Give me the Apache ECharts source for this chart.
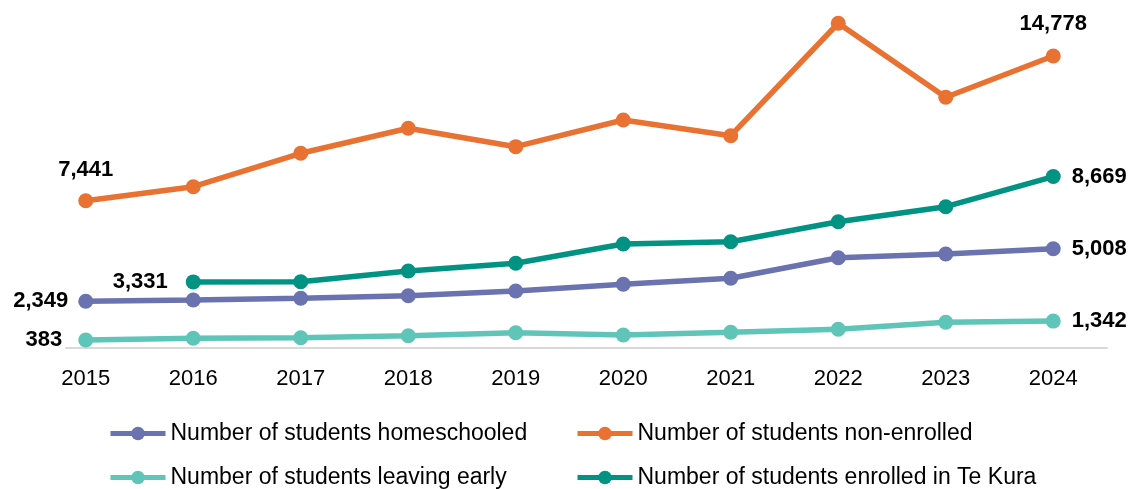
<!DOCTYPE html>
<html>
<head>
<meta charset="utf-8">
<script src="https://cdn.jsdelivr.net/npm/echarts@6/dist/echarts.min.js"></script>
<style>
  html, body { margin: 0; padding: 0; background: #fff; }
  #chart { width: 1134px; height: 489px; }
</style>
</head>
<body>
<div id="chart"></div>
<script>
const years = ["2015", "2016", "2017", "2018", "2019", "2020", "2021", "2022", "2023", "2024"];
const homeschooled = [2349, 2413, 2499, 2631, 2869, 3209, 3513, 4557, 4745, 5008];
const nonEnrolled = [7441, 8156, 9849, 11116, 10184, 11537, 10741, 16439, 12688, 14778];
const leavingEarly = [383, 471, 502, 603, 755, 639, 776, 928, 1282, 1342];
const teKura = [null, 3331, 3340, 3883, 4273, 5251, 5368, 6382, 7142, 8669];

const font = "'Liberation Sans', Arial, sans-serif";

// label only the first and last value of each line
const endLabels = (values, firstPos, firstDist, lastPos, lastDist) => {
  let first = values.findIndex((v) => v != null);
  let last = values.length - 1;
  return values.map((v, i) => {
    if (i === first) {
      return { value: v, label: { show: true, position: firstPos, distance: firstDist } };
    }
    if (i === last) {
      return { value: v, label: { show: true, position: lastPos, distance: lastDist } };
    }
    return v;
  });
};

const makeSeries = (name, color, data) => ({
  name: name,
  type: "line",
  data: data,
  symbol: "circle",
  symbolSize: 15,
  showAllSymbol: true,
  connectNulls: false,
  lineStyle: { width: 5.5, color: color },
  itemStyle: { color: color },
  label: {
    show: false,
    color: "#000",
    fontWeight: "bold",
    fontSize: 22,
    fontFamily: font,
    formatter: (p) => p.value.toLocaleString("en-US"),
  },
  emphasis: { disabled: true },
});

const series = [
  makeSeries("Number of students homeschooled", "#6A72B0", endLabels(homeschooled, "left", 10, "right", 11)),
  makeSeries("Number of students non-enrolled", "#E97132", endLabels(nonEnrolled, "top", 12, "top", 14)),
  makeSeries("Number of students leaving early", "#5FC5B9", endLabels(leavingEarly, "left", 13, "right", 11)),
  makeSeries("Number of students enrolled in Te Kura", "#009282", endLabels(teKura, "left", 18, "right", 11)),
];
// white box behind "383" hides the start of the axis line
series[2].data[0].label.backgroundColor = "#fff";
series[2].data[0].label.padding = [0, 3, 0, 3];

const legendBase = {
  orient: "vertical",
  itemWidth: 55,
  itemHeight: 17,
  itemGap: 21,
  top: 422,
  height: 90,
  padding: 0,
  lineStyle: { width: 5 },
  textStyle: { fontSize: 23, color: "#000", fontFamily: font },
};

const option = {
  animation: false,
  grid: { left: 32, right: 27, top: 12.2, bottom: 141.4 },
  legend: [
    Object.assign({}, legendBase, {
      left: 108,
      data: ["Number of students homeschooled", "Number of students leaving early"],
    }),
    Object.assign({}, legendBase, {
      left: 575,
      data: ["Number of students non-enrolled", "Number of students enrolled in Te Kura"],
    }),
  ],
  xAxis: {
    type: "category",
    data: years,
    boundaryGap: true,
    axisLine: { lineStyle: { color: "#D9D9D9", width: 2 } },
    axisTick: { show: false },
    axisLabel: { fontSize: 22, color: "#000", margin: 20, fontFamily: font },
  },
  yAxis: {
    type: "value",
    min: 0,
    max: 17000,
    show: false,
    splitLine: { show: false },
  },
  series: series,
};

const chart = echarts.init(document.getElementById("chart"));
chart.setOption(option);
</script>
</body>
</html>
